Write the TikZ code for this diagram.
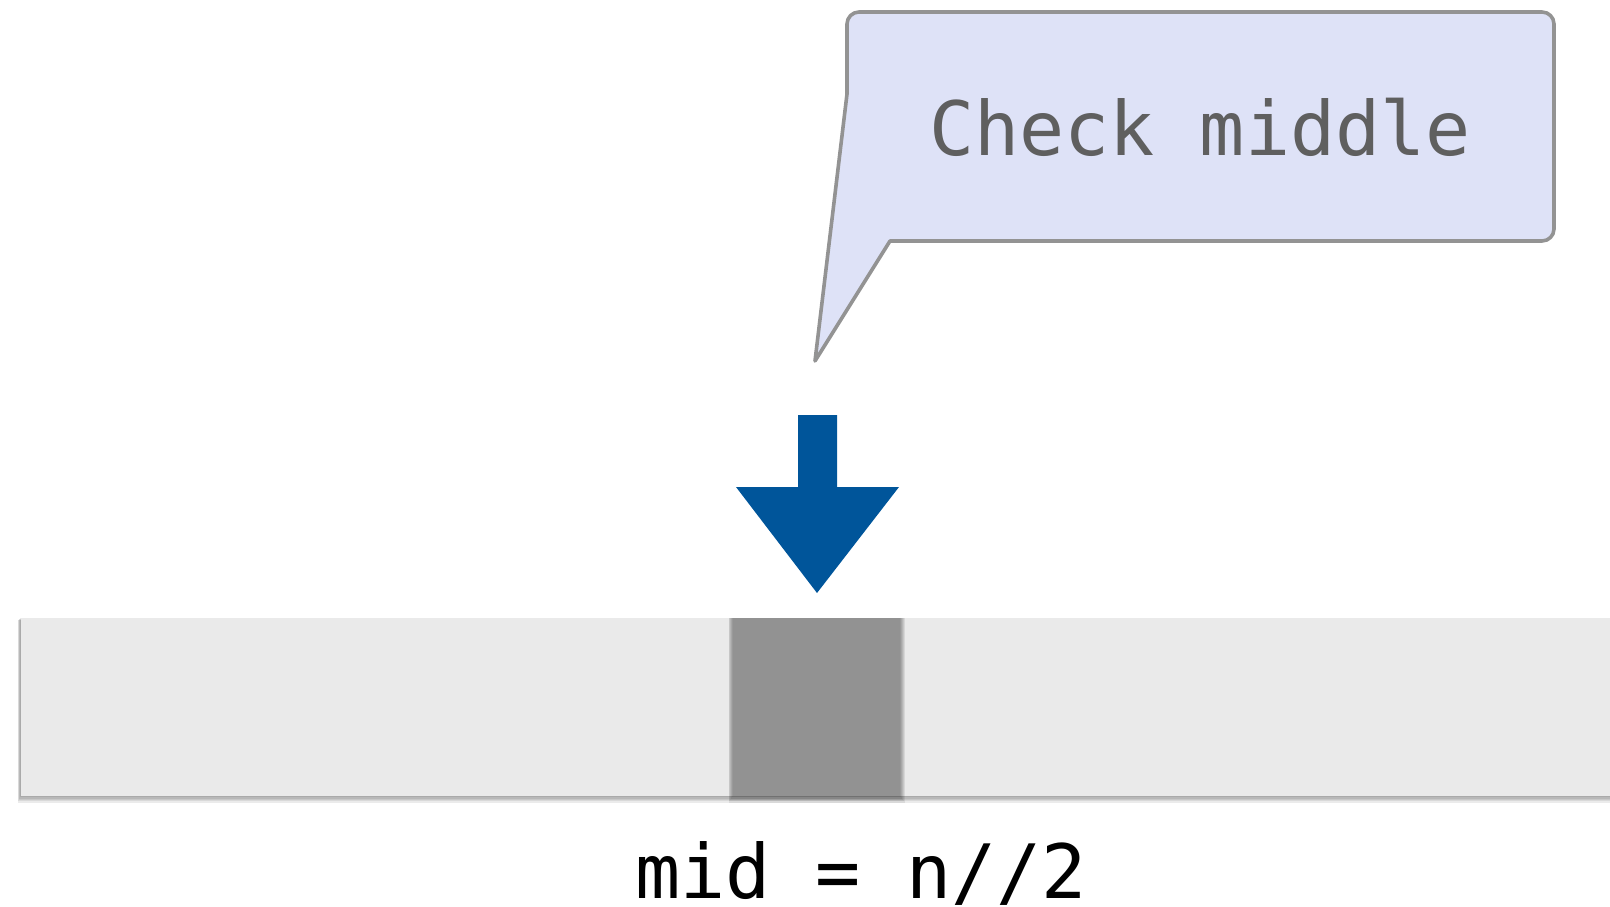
\documentclass[tikz,border=0pt]{standalone}
\usepackage{fontspec}
\newfontfamily\monof{DejaVu Sans Mono}
\definecolor{callfill}{HTML}{DEE2F7}
\definecolor{callline}{HTML}{939393}
\definecolor{calltext}{HTML}{5F5F5F}
\definecolor{arrowblue}{HTML}{00559A}
\definecolor{barfill}{HTML}{EAEAEA}
\definecolor{cellfill}{HTML}{929292}
\tikzset{
  callout/.style={draw=callline, fill=callfill, line width=3.6pt, line join=round},
  barbox/.style={fill=barfill},
  cellbox/.style={fill=cellfill},
  pointer/.style={fill=arrowblue},
  softshadow/.style={fill=black, opacity=0.08},
}
\begin{document}
\begin{tikzpicture}[x=1pt,y=-1pt]
\useasboundingbox (0,0) rectangle (1610,907);
% bar shadow
\foreach \d in {1,2,3,4,5} {
  \fill[softshadow] (20.5-\d*0.6,618+\d*0.4) rectangle (1610,796+\d*1.3);
}
\node[barbox, minimum width=1589.5pt, minimum height=178pt, inner sep=0pt, anchor=north west] (bar) at (20.5,618) {};
% cell shadow
\foreach \d in {1,2,3,4,5} {
  \fill[softshadow] (733-\d*0.9,618) rectangle (900+\d*0.9,796+\d*1.3);
}
\node[cellbox, minimum width=167pt, minimum height=178pt, inner sep=0pt, anchor=north west] (cell) at (733,618) {};
% arrow
\coordinate (tip) at (817,593);
\fill[pointer] (798,415) -- (837,415) -- (837,487) -- (899,487) -- (tip) -- (736,487) -- (798,487) -- cycle;
% callout
\coordinate (ctip) at (815,361);
\draw[callout] (847,94) -- (847,24) arc[start angle=180, end angle=270, radius=12] -- (1542,12)
  arc[start angle=270, end angle=360, radius=12] -- (1554,229)
  arc[start angle=0, end angle=90, radius=12] -- (890,241) -- (ctip) -- cycle;
\node[text=calltext, font=\monof\fontsize{75}{80}\selectfont, inner sep=0pt] (msg) at (1200,127) {Check middle};
% label
\node[text=black, font=\monof\fontsize{75}{80}\selectfont, inner sep=0pt, anchor=base] (lbl) at (861,898) {mid = n//2};
\end{tikzpicture}
\end{document}
